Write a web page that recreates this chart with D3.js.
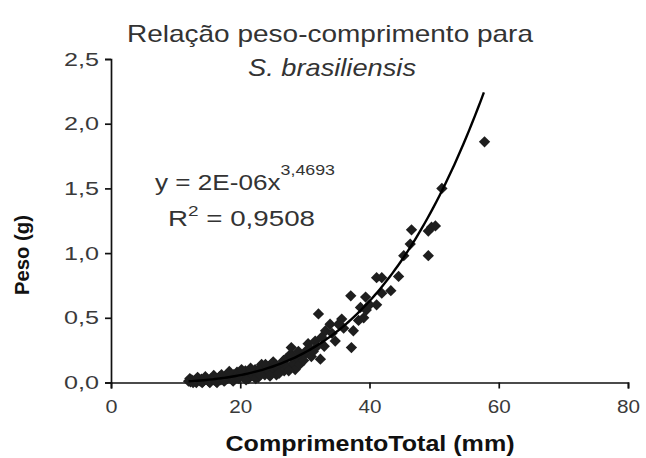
<!DOCTYPE html>
<head>
    <meta charset="utf-8">
    <title>Peso-comprimento</title>
    <script src="https://d3js.org/d3.v7.min.js"></script>
    <style>
        body { margin: 0; background: #fff; }
        svg { display: block; font-family: "Liberation Sans", Arial, sans-serif; }
    </style>
</head>
<body>
    <div id="container"></div>
    <script>
        //--------------------------- DATA ---------------------------//
        // comprimento total (mm)
        var lengths = [
            12.0, 12.3, 12.5, 12.8, 13.0, 13.2, 13.5, 13.8, 14.0, 14.2,
            14.5, 14.8, 15.0, 15.3, 15.5, 15.8, 16.0, 16.2, 16.5, 16.8,
            17.0, 17.3, 17.5, 17.8, 18.0, 18.2, 18.5, 18.8, 19.0, 19.3,
            19.5, 19.8, 20.0, 20.3, 20.5, 20.8, 21.0, 21.3, 21.5, 21.7,
            22.0, 22.3, 22.5, 22.8, 23.0, 23.3, 23.5, 23.8, 24.0, 24.3,
            24.5, 24.8, 25.1, 25.3, 25.6, 25.9, 26.2, 26.5, 26.8, 27.0,
            27.3, 27.8, 27.9, 28.2, 28.5, 28.8, 29.0, 29.5, 30.0, 30.5,
            30.8, 31.0, 31.6, 32.1, 32.4, 32.6, 33.0, 33.2, 33.9, 34.2,
            34.7, 35.2, 35.7, 36.0, 37.1, 37.2, 37.5, 38.3, 38.6, 39.1,
            39.4, 39.5, 40.0, 41.1, 41.1, 41.9, 41.9, 43.3, 44.5, 45.3,
            46.3, 46.5, 49.1, 49.1, 49.6, 50.2, 51.2, 57.8,
            12.2, 12.7, 13.4, 14.1, 14.6, 15.2, 15.9, 16.4, 17.1, 17.6,
            18.3, 18.9, 19.6, 20.2, 20.9, 21.6, 22.4, 23.1, 23.9, 24.6,
            25.4, 26.0, 26.7, 27.5, 28.0, 29.2, 29.8, 30.3, 31.3, 31.9
        ];
        // peso (g)
        var weights = [
            0.010, 0.005, 0.020, 0.010, 0.015, 0.000, 0.020, 0.010, 0.025, 0.005,
            0.020, 0.030, 0.015, 0.000, 0.030, 0.020, 0.035, 0.010, 0.030, 0.045,
            0.020, 0.040, 0.010, 0.050, 0.030, 0.070, 0.040, 0.020, 0.060, 0.045,
            0.080, 0.030, 0.050, 0.070, 0.040, 0.090, 0.060, 0.030, 0.080, 0.090,
            0.050, 0.100, 0.070, 0.040, 0.110, 0.140, 0.080, 0.060, 0.100, 0.120,
            0.080, 0.140, 0.160, 0.100, 0.060, 0.110, 0.130, 0.150, 0.090, 0.180,
            0.120, 0.220, 0.270, 0.150, 0.100, 0.190, 0.240, 0.200, 0.220, 0.300,
            0.260, 0.200, 0.320, 0.530, 0.180, 0.350, 0.280, 0.400, 0.450, 0.380,
            0.320, 0.450, 0.490, 0.420, 0.670, 0.270, 0.400, 0.480, 0.580, 0.500,
            0.660, 0.560, 0.600, 0.810, 0.600, 0.810, 0.690, 0.710, 0.820, 0.980,
            1.070, 1.180, 1.170, 0.980, 1.200, 1.210, 1.500, 1.860,
            0.030, 0.000, 0.040, 0.000, 0.045, 0.005, 0.055, 0.000, 0.060, 0.015,
            0.085, 0.010, 0.035, 0.100, 0.020, 0.110, 0.030, 0.060, 0.140, 0.050,
            0.130, 0.070, 0.170, 0.090, 0.200, 0.140, 0.170, 0.250, 0.240, 0.280
        ];
        var xTicks = [0, 20, 40, 60, 80];
        var yTicks = [0, 0.5, 1.0, 1.5, 2.0, 2.5];
        // power trendline  y = a * x^b  (label shows a rounded to 2E-06)
        var trendA = 1.74e-6,
            trendB = 3.4693;
        var titleLines = ["Relação peso-comprimento para", "S. brasiliensis"];

        //--------------------------- SVG ----------------------------//
        var W = 646, H = 458;
        var svg = d3.select("#container").append("svg")
            .attr("width", W).attr("height", H);

        var xScale = d3.scaleLinear().domain([0, 80]).range([111, 628]);
        var yScale = d3.scaleLinear().domain([0, 2.5]).range([382.5, 59]);

        var comma = function (f) { return function (d) { return f(d).replace(".", ","); }; };

        // stretch text horizontally to the width seen in the picture
        function fit(sel, w) {
            sel.attr("textLength", w).attr("lengthAdjust", "spacingAndGlyphs");
        }

        //--------------------------- AXES ---------------------------//
        var yAxis = d3.axisLeft(yScale)
            .tickValues(yTicks)
            .tickSizeOuter(0)
            .tickSize(6)
            .tickPadding(6)
            .tickFormat(comma(d3.format(".1f")));

        var xAxis = d3.axisBottom(xScale)
            .tickValues(xTicks)
            .tickSizeOuter(0)
            .tickSize(6)
            .tickPadding(11)
            .tickFormat(d3.format("d"));

        var gy = svg.append("g")
            .attr("transform", "translate(" + xScale(0) + ",0)")
            .call(yAxis);
        var gx = svg.append("g")
            .attr("transform", "translate(0," + yScale(0) + ")")
            .call(xAxis);

        [gx, gy].forEach(function (g) {
            g.selectAll("path, line").attr("stroke", "#111").attr("stroke-width", 1.7);
            g.selectAll("text").attr("fill", "#3a3a3a").style("font-size", "19px");
        });
        gy.selectAll("text").each(function () { fit(d3.select(this), 35); });
        gx.selectAll("text").each(function (d) { fit(d3.select(this), d === 0 ? 12 : 23); });

        //-------------------------- TITLES --------------------------//
        fit(svg.append("text")
            .attr("x", 330).attr("y", 42)
            .attr("text-anchor", "middle")
            .attr("fill", "#333")
            .style("font-size", "24px")
            .text(titleLines[0]), 406);

        fit(svg.append("text")
            .attr("x", 332).attr("y", 76)
            .attr("text-anchor", "middle")
            .attr("fill", "#333")
            .style("font-size", "24px")
            .style("font-style", "italic")
            .text(titleLines[1]), 168);

        fit(svg.append("text")
            .attr("x", 370).attr("y", 451)
            .attr("text-anchor", "middle")
            .attr("fill", "#111")
            .style("font-size", "22px")
            .style("font-weight", "bold")
            .text("ComprimentoTotal (mm)"), 289);

        fit(svg.append("text")
            .attr("transform", "translate(29,255) rotate(-90)")
            .attr("text-anchor", "middle")
            .attr("fill", "#111")
            .style("font-size", "20px")
            .style("font-weight", "bold")
            .text("Peso (g)"), 80);

        //------------------------ EQUATION --------------------------//
        var eq = svg.append("text")
            .attr("x", 155).attr("y", 190)
            .attr("fill", "#333")
            .style("font-size", "22px");
        eq.append("tspan").text("y = 2E-06x");
        eq.append("tspan").attr("dy", -15).style("font-size", "15px").text("3,4693");
        fit(eq, 180);

        var r2 = svg.append("text")
            .attr("x", 168).attr("y", 226)
            .attr("fill", "#333")
            .style("font-size", "22px");
        r2.append("tspan").text("R");
        r2.append("tspan").attr("dy", -10).style("font-size", "15px").text("2");
        r2.append("tspan").attr("dy", 10).text(" = 0,9508");
        fit(r2, 147);

        //------------------------- POINTS ---------------------------//
        var pts = lengths.map(function (x, i) { return { x: x, y: weights[i] }; });
        var diamond = d3.symbol().type(d3.symbolSquare).size(64);

        svg.append("g").selectAll("path")
            .data(pts)
            .join("path")
            .attr("d", diamond)
            .attr("transform", function (d) {
                return "translate(" + xScale(d.x) + "," + yScale(d.y) + ") rotate(45)";
            })
            .attr("fill", "#1e1e1e");

        //------------------------ TRENDLINE -------------------------//
        var xMin = d3.min(lengths), xMax = 57.7;
        var trend = d3.range(0, 101).map(function (i) {
            var x = xMin + (xMax - xMin) * i / 100;
            return [x, trendA * Math.pow(x, trendB)];
        });
        svg.append("path")
            .datum(trend)
            .attr("fill", "none")
            .attr("stroke", "#000")
            .attr("stroke-width", 2.4)
            .attr("d", d3.line()
                .x(function (d) { return xScale(d[0]); })
                .y(function (d) { return yScale(d[1]); }));
    </script>
</body>
